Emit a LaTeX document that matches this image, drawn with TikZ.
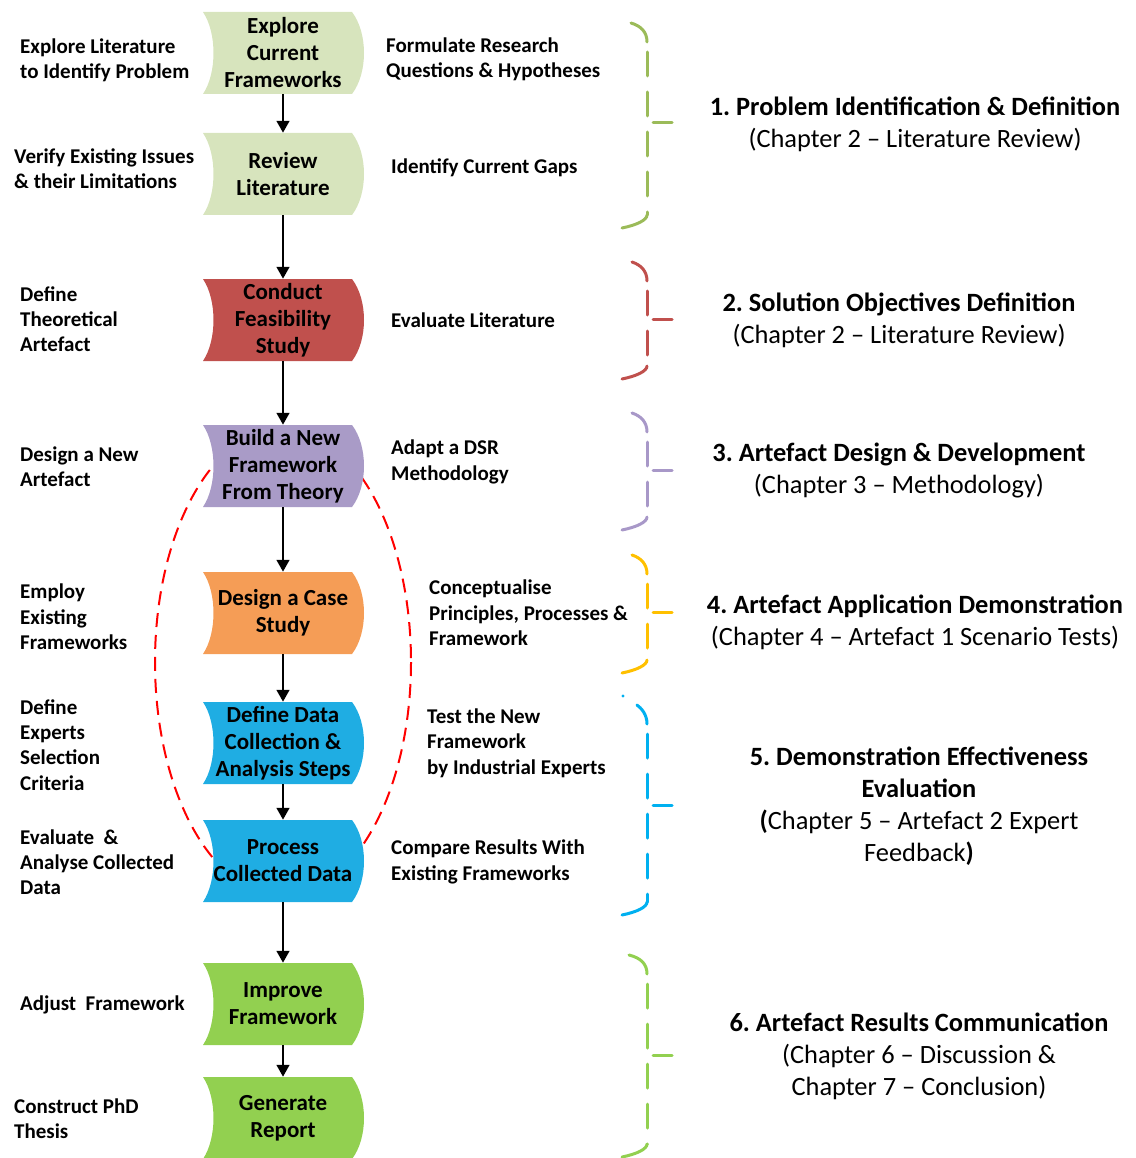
\documentclass[tikz,border=0pt]{standalone}
\usepackage{fontspec}
\setmainfont{Carlito}
\usetikzlibrary{arrows.meta}
\frenchspacing

% fills of the process steps
\definecolor{paleolive}{HTML}{D7E4BD}
\definecolor{brick}{HTML}{C0504D}
\definecolor{lavender}{HTML}{A99BC7}
\definecolor{apricot}{HTML}{F59D56}
\definecolor{skyblue}{HTML}{1FADE3}
\definecolor{leaf}{HTML}{92D050}
% phase brace colours
\definecolor{olivebrace}{HTML}{9BBB59}
\definecolor{lavbrace}{HTML}{A898C8}
\definecolor{ambrace}{HTML}{FFC000}
\definecolor{bluebrace}{HTML}{00B0F0}

\tikzset{
  steptext/.style={text width=150pt, minimum height=82pt, inner sep=0pt,
    align=flush center, font=\bfseries\fontsize{23}{27}\selectfont},
  sidelabel/.style={anchor=west, align=left, inner sep=0pt,
    font=\bfseries\fontsize{21}{25.3}\selectfont},
  phasetitle/.style={align=center, inner sep=0pt,
    font=\fontsize{26.4}{32}\selectfont},
  flowarrow/.style={line width=2.8pt, -{Triangle[length=12pt,width=12.5pt]}},
  loopline/.style={red, line width=2pt, dash pattern=on 14pt off 8pt},
  bracearc/.style={line width=3pt, line cap=round},
  bracerule/.style={line width=3pt, line cap=round, dash pattern=on 24pt off 16pt, dash phase=30pt},
}

% #1 name, #2 x, #3 y, #4 fill, #5 text : stored-data style step
\newcommand\flowstep[5]{%
  \begin{scope}[shift={(#2,#3)}]
    \fill[#4] (-80,-41) -- (69,-41) .. controls (85,-20) and (85,20) .. (69,41)
      -- (-80,41) .. controls (-66,20) and (-66,-20) .. (-80,-41) -- cycle;
    \node[steptext] (#1) at (0,0) {#5};
  \end{scope}}

% #1 colour, #2 top start x, #3 top y, #4 bottom y, #5 tick y
\newcommand\phasebrace[5]{%
  \draw[bracearc, #1] (#2,#3) .. controls (641,#3+3) and (647,#3+9) .. (647,#3+19);
  \draw[bracerule, #1] (647,#3+19) -- (647,#4-13);
  \draw[bracearc, #1] (647,#4-13) .. controls (647,#4-8) and (637,#4-3) .. (622,#4);
  \draw[bracearc, #1] (653,#5) -- (672,#5);}

\begin{document}
\begin{tikzpicture}[x=1pt, y=-1pt]
\useasboundingbox (0,0) rectangle (1135,1158);

% iteration loop around the build-and-evaluate steps
\draw[loopline] (283,662) ellipse [x radius=128, y radius=234];

% process steps
\flowstep{explore}{283}{53}{paleolive}{Explore\\Current\\Frameworks}
\flowstep{review}{283}{174}{paleolive}{Review\\Literature}
\flowstep{feasible}{283}{320}{brick}{Conduct\\Feasibility\\Study}
\flowstep{build}{283}{466}{lavender}{Build a New\\Framework\\From Theory}
\flowstep{casestudy}{283}{613}{apricot}{Design a Case\\Study}
\flowstep{datadef}{283}{743}{skyblue}{Define Data\\Collection \&\\Analysis Steps}
\flowstep{process}{283}{861}{skyblue}{Process\\Collected Data}
\flowstep{improve}{283}{1004}{leaf}{Improve\\Framework}
\flowstep{report}{283}{1118}{leaf}{Generate\\Report}

\draw[flowarrow] (explore) -- (review);
\draw[flowarrow] (review) -- (feasible);
\draw[flowarrow] (feasible) -- (build);
\draw[flowarrow] (build) -- (casestudy);
\draw[flowarrow] (casestudy) -- (datadef);
\draw[flowarrow] (datadef) -- (process);
\draw[flowarrow] (process) -- (improve);
\draw[flowarrow] (improve) -- (report);

% activities on the left
\node[sidelabel] (l1) at (20,60) {Explore Literature\\to Identify Problem};
\node[sidelabel] (l2) at (14,169) {Verify Existing Issues\\\& their Limitations};
\node[sidelabel] (l3) at (20,319) {Define\\Theoretical\\Artefact};
\node[sidelabel] (l4) at (20,467) {Design a New\\Artefact};
\node[sidelabel] (l5) at (20,617) {Employ\\Existing\\Frameworks};
\node[sidelabel] (l6) at (20,745) {Define\\Experts\\Selection\\Criteria};
\node[sidelabel] (l7) at (20,862) {Evaluate\ \ \&\\Analyse Collected\\Data};
\node[sidelabel] (l8) at (20,1005) {Adjust\ \ Framework};
\node[sidelabel] (l9) at (14,1119) {Construct PhD\\Thesis};

% activities on the right
\node[sidelabel] (r1) at (386,59) {Formulate Research\\Questions \& Hypotheses};
\node[sidelabel] (r2) at (391,168) {Identify Current Gaps};
\node[sidelabel] (r3) at (391,320) {Evaluate Literature};
\node[sidelabel] (r4) at (391,462) {Adapt a DSR\\Methodology};
\node[sidelabel] (r5) at (429,613) {Conceptualise\\Principles, Processes \&\\Framework};
\node[sidelabel] (r6) at (427,743) {Test the New\\Framework\\by Industrial Experts};
\node[sidelabel] (r7) at (391,862) {Compare Results With\\Existing Frameworks};

% phase braces
\phasebrace{olivebrace}{631}{23}{228}{123}
\phasebrace{brick}{632}{262}{379}{319}
\phasebrace{lavbrace}{632}{413}{530}{470}
\phasebrace{ambrace}{632}{555}{673}{612}
\phasebrace{bluebrace}{637}{705}{915}{805}
\fill[bluebrace] (623,696) circle (1.6);
\phasebrace{leaf}{629}{955}{1157}{1055}

% phase titles
\node[phasetitle] (p1) at (915,124) {\textbf{1. Problem Identification \& Definition}\\(Chapter 2 – Literature Review)};
\node[phasetitle] (p2) at (899,320) {\textbf{2. Solution Objectives Definition}\\(Chapter 2 – Literature Review)};
\node[phasetitle] (p3) at (899,471) {\textbf{3. Artefact Design \& Development}\\(Chapter 3 – Methodology)};
\node[phasetitle] (p4) at (915,622) {\textbf{4. Artefact Application Demonstration}\\(Chapter 4 – Artefact 1 Scenario Tests)};
\node[phasetitle] (p5) at (919,806) {\textbf{5. Demonstration Effectiveness}\\\textbf{Evaluation}\\\textbf{(}Chapter 5 – Artefact 2 Expert\\Feedback\textbf{)}};
\node[phasetitle] (p6) at (919,1056) {\textbf{6. Artefact Results Communication}\\(Chapter 6 – Discussion \&\\Chapter 7 – Conclusion)};
\end{tikzpicture}
\end{document}
